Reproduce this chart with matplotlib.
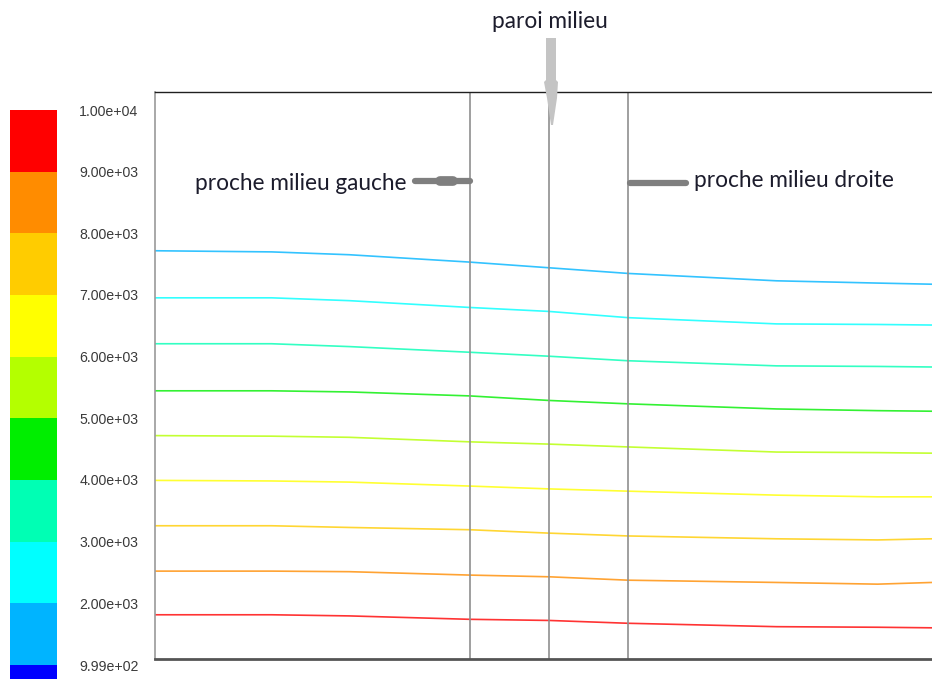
import matplotlib
matplotlib.use("Agg")
import matplotlib.pyplot as plt
import numpy as np
from matplotlib.colors import ListedColormap, BoundaryNorm, to_rgb
from matplotlib.patches import Polygon

# ---------------- data ----------------
band_bounds = [0, 999, 2000, 3000, 4000, 5000, 6000, 7000, 8000, 9000, 10000]
band_colors = ["#0000ff", "#00b4ff", "#00ffff", "#00ffb4", "#00ee00",
               "#b4ff00", "#ffff00", "#ffcc00", "#ff8c00", "#ff0000"]
cbar_ticks = [999, 2000, 3000, 4000, 5000, 6000, 7000, 8000, 9000, 10000]

# contour levels (one line each) and their positions
line_levels = [1500, 2500, 3500, 4500, 5500, 6500, 7500, 8500, 9500]
x_pts = [0.0, 0.15, 0.25, 0.405, 0.507, 0.609, 0.80, 0.93, 1.0]
y_lines = [
    [0.720, 0.718, 0.713, 0.700, 0.690, 0.680, 0.667, 0.663, 0.661],
    [0.637, 0.637, 0.632, 0.620, 0.613, 0.602, 0.591, 0.590, 0.589],
    [0.556, 0.556, 0.551, 0.541, 0.534, 0.526, 0.517, 0.516, 0.515],
    [0.473, 0.473, 0.471, 0.464, 0.456, 0.450, 0.441, 0.438, 0.437],
    [0.394, 0.393, 0.391, 0.383, 0.379, 0.374, 0.365, 0.364, 0.363],
    [0.315, 0.314, 0.312, 0.305, 0.300, 0.296, 0.289, 0.286, 0.286],
    [0.235, 0.235, 0.232, 0.228, 0.222, 0.217, 0.212, 0.210, 0.212],
    [0.155, 0.155, 0.154, 0.148, 0.145, 0.139, 0.135, 0.132, 0.135],
    [0.078, 0.078, 0.076, 0.070, 0.068, 0.063, 0.057, 0.056, 0.055],
]
wall_x = [0.405, 0.507, 0.609]
labels = ["proche milieu gauche", "paroi milieu", "proche milieu droite"]

# ---------------- figure ----------------
W, H = 932, 679
fig = plt.figure(figsize=(W / 100, H / 100), dpi=100)

def fx(px):
    return px / W

def fy(py):
    return 1 - py / H

cmap = ListedColormap(band_colors)
norm = BoundaryNorm(band_bounds, cmap.N)

def soften(c, f=0.2):
    r, g, b = to_rgb(c)
    return (r + (1 - r) * f, g + (1 - g) * f, b + (1 - b) * f)

# colour bar
cax = fig.add_axes([fx(10), 0, fx(57) - fx(10), fy(110)])
for lo, hi, c in zip(band_bounds[:-1], band_bounds[1:], band_colors):
    cax.axhspan(lo, hi, color=c, lw=0)
cax.set_ylim(772, 10000)
cax.set_xlim(0, 1)
cax.set_xticks([])
cax.yaxis.tick_right()
cax.set_yticks(cbar_ticks)
cax.set_yticklabels(["%.2e" % v for v in cbar_ticks],
                    fontsize=10.2, color="#3a3a3a", family="Liberation Sans")
cax.tick_params(axis="y", length=0, pad=16)
for s in cax.spines.values():
    s.set_visible(False)

# main axes
ax = fig.add_axes([fx(155), fy(659), 1 - fx(155), fy(92) - fy(659)])
ax.set_xlim(0, 1)
ax.set_ylim(0, 1)
ax.set_xticks([])
ax.set_yticks([])
ax.spines["right"].set_visible(False)
ax.spines["top"].set_color("#202020")
ax.spines["top"].set_linewidth(1.0)
ax.spines["left"].set_color("#9a9a9a")
ax.spines["left"].set_linewidth(1.2)
ax.spines["bottom"].set_color("#555555")
ax.spines["bottom"].set_linewidth(2.0)

for lev, ys in zip(line_levels, y_lines):
    ax.plot(x_pts, ys, color=soften(cmap(norm(lev))), lw=1.2,
            solid_capstyle="butt")

for xv in wall_x:
    ax.axvline(xv, color="#8f8f8f", lw=1.2)

# annotations
font = dict(family="Lato", fontsize=16.3, color="#1c1c2c")
fig.text(fx(195), fy(184), labels[0], ha="left", va="center", **font)
fig.text(fx(550), fy(22), labels[1], ha="center", va="center", **font)
fig.text(fx(694), fy(181), labels[2], ha="left", va="center", **font)

# arrow for "paroi milieu"
arrow_pts = [(546, 38), (556, 38), (556, 80), (558, 82), (557, 98),
             (553, 125), (551, 125), (547, 98), (544, 82), (546, 80)]
fig.patches.append(Polygon([(fx(a), fy(b)) for a, b in arrow_pts],
                           closed=True, transform=fig.transFigure,
                           facecolor="#c4c4c4", edgecolor="none"))

# pointer lines for the side labels
fig.add_artist(plt.Line2D([fx(415), fx(470)], [fy(181), fy(181)],
                          transform=fig.transFigure, color="#7f7f7f",
                          lw=4.5, solid_capstyle="round"))
fig.add_artist(plt.Line2D([fx(440), fx(453)], [fy(181), fy(181)],
                          transform=fig.transFigure, color="#7f7f7f",
                          lw=7, solid_capstyle="round"))
fig.add_artist(plt.Line2D([fx(630), fx(686)], [fy(183), fy(183)],
                          transform=fig.transFigure, color="#7f7f7f",
                          lw=4.5, solid_capstyle="round"))

fig.savefig("out.png", dpi=100, facecolor="white")
